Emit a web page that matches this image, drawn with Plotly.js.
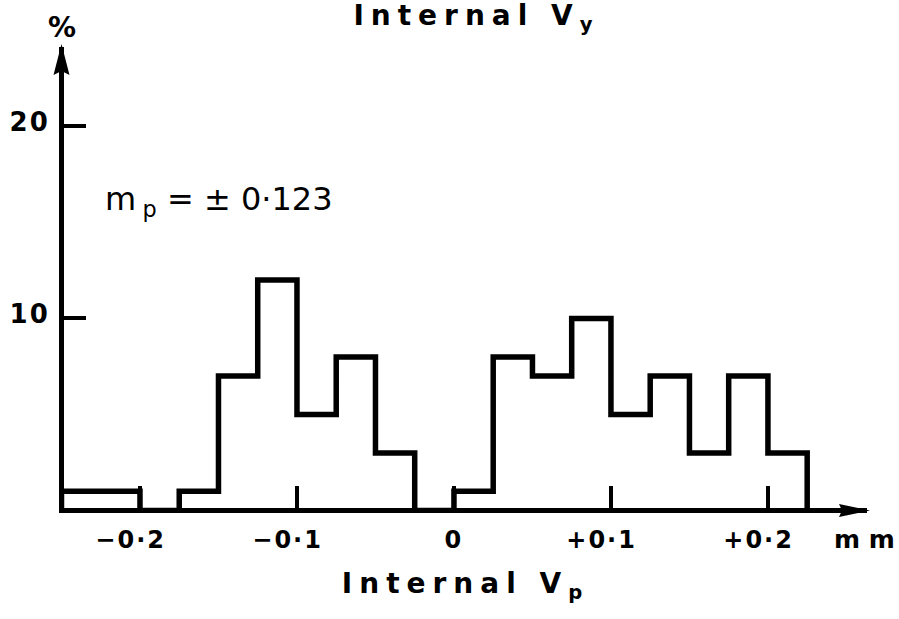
<!DOCTYPE html>
<html>
<head>
<meta charset="utf-8">
<script src="https://cdn.plot.ly/plotly-3.0.1.min.js"></script>
<style>
  html, body { margin: 0; padding: 0; background: #fff; }
  #chart { width: 899px; height: 619px; }
  .gtitle, .xtitle { letter-spacing: 7px; }
  .xtick text, .ytick text { letter-spacing: 2px; }
</style>
</head>
<body>
<div id="chart"></div>
<script>
// Bin start edges (mm) and the final edge
const binEdges = [-0.25, -0.225, -0.2, -0.175, -0.15, -0.125, -0.1, -0.075, -0.05, -0.025,
                  0, 0.025, 0.05, 0.075, 0.1, 0.125, 0.15, 0.175, 0.2, 0.225];
// Percentage of values in each bin (one fewer than edges)
const binPercent = [1, 1, 0, 1, 7, 12, 5, 8, 3, 0,
                    1, 8, 7, 10, 5, 7, 3, 7, 3];
// Axis ticks
const xTickVals = [-0.2, -0.1, 0, 0.1, 0.2];
const xTickText = ['\u22120\u00b72\u2007', '\u22120\u00b71\u2007', '0', '+0\u00b71\u2007', '+0\u00b72\u2007'];
const yTickVals = [10, 20];
const yTickText = ['10', '20'];
const xRange = [-0.2484, 0.2631];
const yRange = [0.13, 24.14];

// Build step outline from the bins
const stepX = [binEdges[0]];
const stepY = [0];
for (let i = 0; i < binPercent.length; i++) {
  stepX.push(binEdges[i]);
  stepY.push(binPercent[i]);
}
stepX.push(binEdges[binEdges.length - 1]);
stepY.push(0);

const trace = {
  x: stepX, y: stepY, type: 'scatter', mode: 'lines',
  line: {shape: 'hv', color: '#000', width: 5.5},
  hoverinfo: 'skip', showlegend: false
};

const fontFam = '"DejaVu Sans", sans-serif';

const layout = {
  width: 899, height: 619,
  margin: {l: 64, r: 32, t: 47, b: 111},
  paper_bgcolor: '#fff', plot_bgcolor: '#fff',
  showlegend: false,
  title: {
    text: 'Internal V<sub>y</sub>',
    font: {family: fontFam, size: 28, color: '#000', weight: 'bold'},
    xref: 'container', x: 0.53, xanchor: 'center',
    yref: 'container', y: 0.976, yanchor: 'middle', pad: {t: 0, b: 0}
  },
  xaxis: {
    range: xRange, showgrid: false, zeroline: false,
    showline: true, linecolor: '#000', linewidth: 5,
    ticks: 'inside', ticklen: 22, tickwidth: 4, tickcolor: '#000',
    tickvals: xTickVals, ticktext: xTickText,
    tickfont: {family: fontFam, size: 24, color: '#000', weight: 'bold'},
    ticklabelstandoff: 6,
    title: {
      text: 'Internal V<sub>p</sub>',
      font: {family: fontFam, size: 28, color: '#000', weight: 'bold'},
      standoff: 22
    }
  },
  yaxis: {
    range: yRange, showgrid: false, zeroline: false,
    showline: true, linecolor: '#000', linewidth: 5,
    ticks: 'inside', ticklen: 22, tickwidth: 4, tickcolor: '#000',
    tickvals: yTickVals, ticktext: yTickText,
    tickfont: {family: fontFam, size: 26, color: '#000', weight: 'bold'},
    ticklabelstandoff: 4, ticklabelshift: -5
  },
  shapes: [
    {type: 'path', xref: 'paper', yref: 'paper', xsizemode: 'pixel', ysizemode: 'pixel',
     xanchor: 1, yanchor: 0,
     path: 'M3,-2.5 L-28,-9 L-25,-2.5 L-28,4 Z', fillcolor: '#000', line: {width: 0}},
    {type: 'path', xref: 'paper', yref: 'paper', xsizemode: 'pixel', ysizemode: 'pixel',
     xanchor: 0, yanchor: 1,
     path: 'M-2.5,3 L-10.5,-28 L-2.5,-24 L5.5,-28 Z', fillcolor: '#000', line: {width: 0}}
  ],
  annotations: [
    {text: '%', xref: 'paper', x: 0, xshift: -2.5, yref: 'paper', y: 1, yshift: 1,
     xanchor: 'center', yanchor: 'bottom', showarrow: false,
     font: {family: fontFam, size: 28, color: '#000', weight: 'bold'}},
    {text: 'm\u2009<sub>p</sub> = \u00b1 0\u00b7123', xref: 'paper', x: 0.193, yref: 'paper', y: 0.666,
     xanchor: 'center', yanchor: 'middle', showarrow: false,
     font: {family: fontFam, size: 32, color: '#000'}},
    {text: 'm m', xref: 'paper', x: 1.0, xshift: -3, yref: 'paper', y: 0, yshift: -15,
     xanchor: 'center', yanchor: 'top', showarrow: false,
     font: {family: fontFam, size: 25, color: '#000', weight: 'bold'}}
  ]
};

Plotly.newPlot('chart', [trace], layout, {displayModeBar: false, staticPlot: true});
</script>
</body>
</html>
